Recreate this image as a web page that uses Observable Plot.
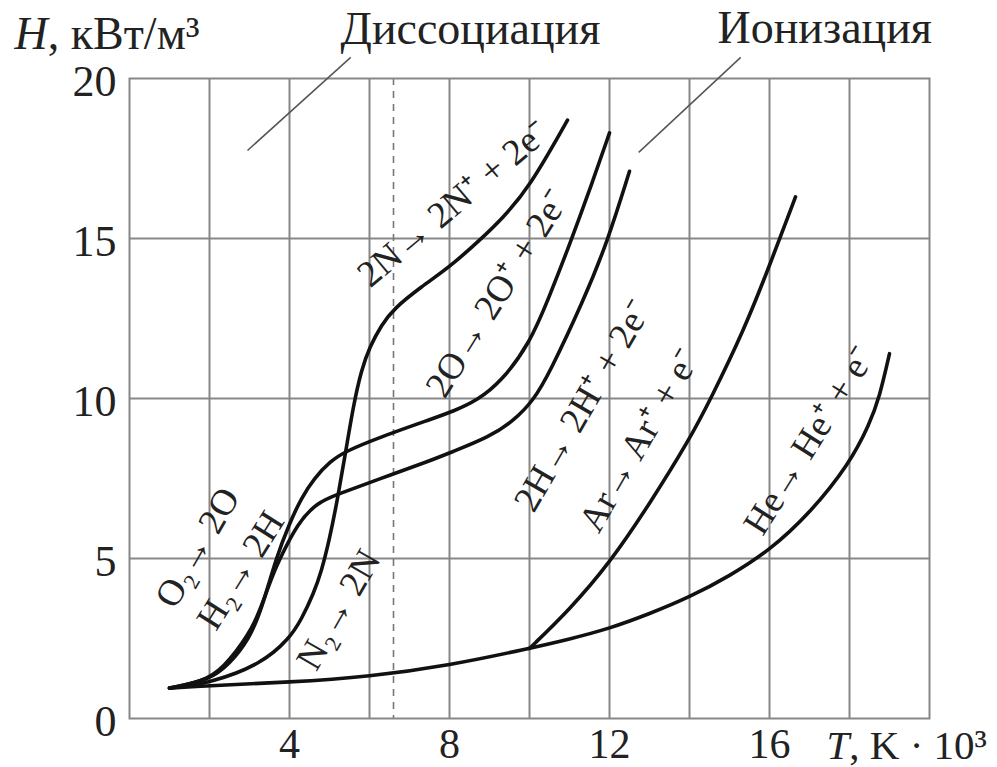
<!DOCTYPE html>
<html><head><meta charset="utf-8">
<script src="https://cdn.jsdelivr.net/npm/d3@7"></script>
<script src="https://cdn.jsdelivr.net/npm/@observablehq/plot@0.6"></script>
<style>body{margin:0;background:#fff}</style>
</head><body><div id="chart"></div>
<script>
// N2 -> 2N -> 2N+ + 2e-
const n2T = [1.0, 2.0, 3.3, 4.0, 4.3, 4.6, 4.8, 5.0, 5.2, 5.4, 5.6, 5.8, 6.0, 6.3, 6.6, 7.3, 8.0, 8.8, 9.3, 10.0, 10.95];
const n2H = [0.95, 1.1, 1.7, 2.5, 3.1, 3.9, 4.6, 5.6, 6.85, 8.3, 9.8, 10.9, 11.6, 12.3, 12.8, 13.5, 14.1, 15.0, 15.6, 16.6, 18.7];
// O2 -> 2O -> 2O+ + 2e-
const o2T = [1.0, 2.0, 2.5, 3.0, 3.3, 3.67, 4.0, 4.3, 4.61, 5.03, 5.4, 6.28, 7.53, 8.1, 8.7, 9.27, 10.0, 10.5, 11.0, 11.5, 12.0];
const o2H = [0.95, 1.2, 1.7, 2.5, 3.4, 5.04, 6.1, 6.9, 7.5, 8.05, 8.35, 8.8, 9.35, 9.6, 9.95, 10.5, 11.7, 13.2, 14.8, 16.5, 18.3];
// H2 -> 2H -> 2H+ + 2e-
const h2T = [1.0, 2.0, 2.5, 3.1, 3.35, 3.6, 3.78, 4.19, 4.69, 5.19, 6.28, 7.53, 8.0, 9.0, 9.6, 10.1, 10.5, 11.35, 11.95, 12.5];
const h2H = [0.95, 1.2, 1.8, 2.85, 3.7, 4.55, 5.04, 6.08, 6.75, 7.0, 7.5, 8.06, 8.3, 8.8, 9.3, 9.94, 10.8, 13.06, 14.9, 17.1];
// base curve and He -> He+ + e-
const heT = [1.0, 2.0, 4.0, 6.0, 8.0, 10.0, 11.0, 12.0, 13.0, 14.0, 15.0, 16.0, 17.0, 18.0, 18.5, 18.75, 19.0];
const heH = [0.95, 1.03, 1.13, 1.31, 1.66, 2.19, 2.48, 2.81, 3.27, 3.79, 4.45, 5.25, 6.4, 7.96, 9.2, 10.04, 11.4];
// Ar -> Ar+ + e-
const arT = [10.0, 11.0, 12.0, 13.0, 14.0, 14.53, 15.36, 16.0, 16.65];
const arH = [2.19, 3.4, 4.85, 6.7, 8.72, 9.99, 12.13, 14.15, 16.3];

// curve labels
const labelText = ["2N\u2192 2N\u207A + 2e\u207B", "2O\u2192 2O\u207A + 2e\u207B", "2H\u2192 2H\u207A + 2e\u207B", "Ar\u2192 Ar\u207A + e\u207B", "He\u2192 He\u207A + e\u207B", "O\u2082\u2192 2O", "H\u2082\u2192 2H", "N\u2082\u2192 2N"];
const labelT = [8.1, 9.2, 11.33, 12.75, 17.0, 1.7, 2.78, 5.23];
const labelH = [16.1, 13.3, 9.78, 8.7, 8.7, 5.34, 4.63, 3.4];
const labelRot = [-40, -58, -60, -60, -58, -60, -58, -60];

// leader lines for "Диссоциация" and "Ионизация"
const leadT1 = [2.95, 12.73], leadH1 = [17.75, 17.69];
const leadT2 = [5.53, 15.28], leadH2 = [20.66, 20.66];

const xTicks = [4, 8, 12, 16];
const yTicks = [0, 5, 10, 15, 20];
const xGrid = [2, 4, 6, 8, 10, 12, 14, 16, 18];
const yGrid = [5, 10, 15];
const dashedT = [6.6];

const series = [["N", n2T, n2H], ["O", o2T, o2H], ["H", h2T, h2H], ["He", heT, heH], ["Ar", arT, arH]];
const rows = series.flatMap(([s, T, H]) => T.map((t, i) => ({s, T: t, H: H[i]})));
const labels = labelText.map((t, i) => ({t, T: labelT[i], H: labelH[i], r: labelRot[i]}));
const leads = leadT1.map((t, i) => ({x1: t, y1: leadH1[i], x2: leadT2[i], y2: leadH2[i]}));

const gridColor = "#878787";
const plot = Plot.plot({
  width: 997, height: 767,
  marginLeft: 129, marginRight: 68, marginTop: 78, marginBottom: 49,
  style: {fontFamily: "'Liberation Serif', serif", color: "#222", background: "#fff"},
  x: {domain: [0, 20], label: null},
  y: {domain: [0, 20], label: null},
  marks: [
    Plot.ruleX(xGrid, {stroke: gridColor, strokeWidth: 2}),
    Plot.ruleY(yGrid, {stroke: gridColor, strokeWidth: 2}),
    Plot.ruleX(dashedT, {stroke: "#777", strokeWidth: 1.6, strokeDasharray: "7,6"}),
    Plot.frame({stroke: gridColor, strokeWidth: 2}),
    Plot.axisX({ticks: xTicks, tickSize: 0, tickPadding: 10, fontSize: 42, label: null}),
    Plot.axisY({ticks: yTicks, tickSize: 0, tickPadding: 13, fontSize: 44, dy: 3, label: null}),
    Plot.line(rows, {x: "T", y: "H", z: "s", curve: "basis", stroke: "#111", strokeWidth: 3.6}),
    Plot.link(leads, {x1: "x1", y1: "y1", x2: "x2", y2: "y2", stroke: "#555", strokeWidth: 1.5}),
    Plot.text(labels, {x: "T", y: "H", text: "t", rotate: "r", fontSize: 37, fill: "#222"}),
    Plot.text(["H, кВт/м\u00B3"], {frameAnchor: "top-left", dx: -115, dy: -30, textAnchor: "start", lineAnchor: "bottom", fontSize: 46, fill: "#222", className: "ylab"}),
    Plot.text(["Диссоциация"], {frameAnchor: "top-left", dx: 211, dy: -35, textAnchor: "start", lineAnchor: "bottom", fontSize: 46, fill: "#222"}),
    Plot.text(["Ионизация"], {frameAnchor: "top-left", dx: 588, dy: -36, textAnchor: "start", lineAnchor: "bottom", fontSize: 46, fill: "#222"}),
    Plot.text(["T, K · 10\u00B3"], {frameAnchor: "bottom-left", dx: 697, dy: 40, textAnchor: "start", lineAnchor: "bottom", fontSize: 41, fill: "#222", className: "xlab"})
  ]
});
document.getElementById("chart").appendChild(plot);

// italic variable letters
function italicize(cls, letter, rest) {
  d3.select(plot).selectAll("g." + cls + " text").each(function() {
    const t = d3.select(this);
    t.text(null);
    t.append("tspan").attr("font-style", "italic").text(letter);
    t.append("tspan").text(rest);
  });
}
italicize("ylab", "H", ", кВт/м\u00B3");
italicize("xlab", "T", ", K · 10\u00B3");
</script>
</body></html>
